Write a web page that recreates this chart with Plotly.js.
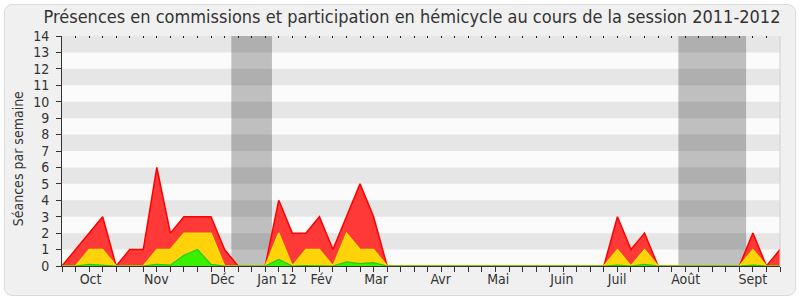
<!DOCTYPE html>
<html>
<head>
<meta charset="utf-8">
<script src="https://cdn.plot.ly/plotly-3.0.1.min.js"></script>
<style>
  html, body { margin: 0; padding: 0; background: #ffffff; }
  #frame { position: absolute; left: 4px; top: 4px; width: 790px; height: 290px;
           background: #f0f0f0; border: 1px solid #dcdcdc; border-radius: 8px; }
  #chart { position: absolute; left: 0; top: 0; width: 800px; height: 300px; }
</style>
</head>
<body>
<div id="frame"></div>
<div id="chart"></div>
<script>
// Week index 0..53 (session 2011-2012, one point per week)
const weeks = Array.from({length: 54}, (_, i) => i);

// Red series (largest)
const redValues = [0,1,2,3,0,1,1,6,2,3,3,3,1,0,0,0,4,2,2,3,1,3,5,3,0,
                   0,0,0,0,0,0,0,0,0,0,0,0,0,0,0,0,3,1,2,0,0,0,0,0,0,0,2,0,1];
// Yellow series
const yellowValues = [0,0,1,1,0,0,0,1,1,2,2,2,0,0,0,0,2,0,1,1,0,2,1,1,0,
                      0,0,0,0,0,0,0,0,0,0,0,0,0,0,0,0,1,0,1,0,0,0,0,0,0,0,1,0,0];
// Green series
const greenValues = [0,0,0.1,0.05,0,0,0,0.1,0.05,0.65,1,0.1,0,0,0,0,0.4,0,0.03,0.03,0,0.25,0.15,0.2,0,
                     0,0,0,0,0,0,0,0,0,0,0,0,0,0,0,0,0.05,0,0.1,0,0,0,0,0,0,0,0.05,0,0];

// Month labels and their week positions
const monthLabels = ["Oct","Nov","Déc","Jan 12","Fév","Mar","Avr","Mai","Juin","Juil","Août","Sept"];
const monthPositions = [2.11,6.96,11.85,15.87,19.14,23.18,27.96,32.2,36.9,40.98,46.04,51.0];

// Vacation periods (week index ranges)
const vacationStart = [12.5, 45.5];
const vacationEnd = [15.5, 50.5];

const yTicks = Array.from({length: 15}, (_, i) => i);

const FONT = '"DejaVu Sans Condensed", "DejaVu Sans", sans-serif';

const traces = [
  {x: weeks, y: redValues, type: 'scatter', mode: 'lines', fill: 'tozeroy',
   line: {color: '#ff0000', width: 1.5}, fillcolor: '#ff3838', hoverinfo: 'skip', xaxis: 'x', yaxis: 'y'},
  {x: weeks, y: yellowValues, type: 'scatter', mode: 'lines', fill: 'tozeroy',
   line: {color: '#ffe000', width: 1.5}, fillcolor: '#ffd20a', hoverinfo: 'skip', xaxis: 'x', yaxis: 'y'},
  {x: weeks, y: greenValues, type: 'scatter', mode: 'lines', fill: 'tozeroy',
   line: {color: '#22cc00', width: 1.2}, fillcolor: '#38f000', hoverinfo: 'skip', xaxis: 'x', yaxis: 'y'},
  // invisible traces to activate overlay axes
  {x: [0, 53], y: [0, 0], type: 'scatter', mode: 'lines', line: {width: 0}, hoverinfo: 'skip', xaxis: 'x2', yaxis: 'y', showlegend: false},
  {x: [0, 53], y: [0, 0], type: 'scatter', mode: 'lines', line: {width: 0}, hoverinfo: 'skip', xaxis: 'x3', yaxis: 'y', showlegend: false}
];

const shapes = [];
for (let k = 1; k < 14; k += 2) {
  shapes.push({type: 'rect', xref: 'paper', yref: 'y', x0: 0, x1: 1, y0: k, y1: k + 1,
               fillcolor: '#e6e6e6', line: {width: 0}, layer: 'below'});
}
for (let k = 0; k < vacationStart.length; k++) {
  shapes.push({type: 'rect', xref: 'x', yref: 'paper', x0: vacationStart[k], x1: vacationEnd[k], y0: 0, y1: 1,
               fillcolor: 'rgba(0,0,0,0.24)', line: {width: 0}, layer: 'below'});
}
shapes.push({type: 'line', xref: 'paper', yref: 'paper', x0: 1, x1: 1, y0: 0, y1: 1,
             line: {color: '#d0d0d0', width: 1}});

const tickFont = {family: FONT, size: 14, color: '#333333'};

const layout = {
  width: 800, height: 300,
  margin: {l: 62, r: 20, t: 36, b: 34},
  paper_bgcolor: 'rgba(0,0,0,0)',
  plot_bgcolor: '#fbfbfb',
  showlegend: false,
  title: {text: 'Présences en commissions et participation en hémicycle au cours de la session 2011-2012',
          font: {family: FONT, size: 18, color: '#333333'}, x: 0.515, xanchor: 'center', y: 0.945, yanchor: 'middle'},
  xaxis: {range: [0, 53], tickmode: 'array', tickvals: monthPositions, ticktext: monthLabels,
          ticks: '', showgrid: false, zeroline: false, showline: true, linecolor: '#333333', linewidth: 1,
          tickfont: tickFont, fixedrange: true},
  xaxis2: {overlaying: 'x', side: 'bottom', range: [0, 53], tickmode: 'array', tickvals: weeks,
           ticks: 'outside', ticklen: 5, tickcolor: '#333333', showticklabels: false,
           showgrid: false, zeroline: false, showline: false},
  xaxis3: {overlaying: 'x', side: 'top', range: [0, 53], tickmode: 'array', tickvals: weeks,
           ticks: 'inside', ticklen: 2, tickcolor: '#222222', tickwidth: 1, showticklabels: false,
           showgrid: false, zeroline: false, showline: false},
  yaxis: {range: [0, 14], tickmode: 'array', tickvals: yTicks, ticks: 'outside', ticklen: 5,
          tickcolor: '#333333', showgrid: false, zeroline: false, showline: true, linecolor: '#333333',
          linewidth: 1, tickfont: tickFont, ticklabelstandoff: 4, fixedrange: true},
  annotations: [{text: 'Séances par semaine', xref: 'paper', yref: 'paper', x: -0.061, y: 0.465,
                 textangle: -90, showarrow: false, xanchor: 'center', yanchor: 'middle',
                 font: {family: FONT, size: 14, color: '#333333'}}],
  shapes: shapes
};

Plotly.newPlot('chart', traces, layout, {displayModeBar: false, staticPlot: true});
</script>
</body>
</html>
